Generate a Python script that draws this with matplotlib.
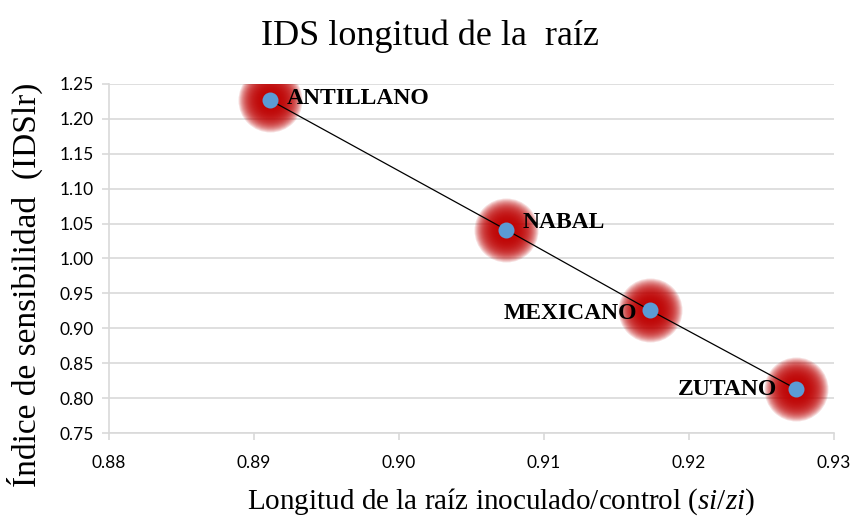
import numpy as np
import matplotlib
matplotlib.use("Agg")
import matplotlib.pyplot as plt

plt.rcParams["mathtext.fontset"] = "custom"
plt.rcParams["mathtext.it"] = "Liberation Serif:italic"
plt.rcParams["mathtext.rm"] = "Liberation Serif"

# data
cultivars = ["ANTILLANO", "NABAL", "MEXICANO", "ZUTANO"]
x_vals = [0.8911, 0.9074, 0.9173, 0.9274]
y_vals = [1.227, 1.041, 0.926, 0.813]
x_ticks = [0.88, 0.89, 0.90, 0.91, 0.92, 0.93]
y_ticks = [0.75, 0.80, 0.85, 0.90, 0.95, 1.00, 1.05, 1.10, 1.15, 1.20, 1.25]

# label placement: (dx px, dy px, ha)
label_pos = {
    "ANTILLANO": (17, 2, "left"),
    "NABAL": (16, 7, "left"),
    "MEXICANO": (-13, -3, "right"),
    "ZUTANO": (-19, 0, "right"),
}

SERIF = "Liberation Serif"
TICKFONT = "Lato"
GRID = "#d9d9d9"

fig = plt.figure(figsize=(8.54, 5.2), dpi=100)
ax = fig.add_axes([0.1276, 0.1673, 0.8490, 0.6712])

# trend line through the points
ax.plot(x_vals, y_vals, color="black", lw=0.9, zorder=4)

# soft red glow around each marker
n_glow = 26
for k in range(n_glow):
    r = 32 - k * 1.0          # radius in px
    ax.scatter(x_vals, y_vals, s=(2 * r * 0.72) ** 2, color="#c00000",
               alpha=0.13, lw=0, zorder=2)

ax.scatter(x_vals, y_vals, s=(16 * 0.72) ** 2, color="#5b9bd5", lw=0, zorder=5)

for name, x, y in zip(cultivars, x_vals, y_vals):
    dx, dy, ha = label_pos[name]
    ax.annotate(name, (x, y), xytext=(dx * 0.72, dy * 0.72),
                textcoords="offset points", ha=ha, va="center",
                fontsize=17, fontweight="bold", family=SERIF, zorder=6)

ax.set_xlim(0.88, 0.93)
ax.set_ylim(0.75, 1.25)
ax.set_xticks(x_ticks)
ax.set_yticks(y_ticks)
ax.set_xticklabels([f"{v:.2f}" for v in x_ticks], family=TICKFONT, fontsize=12.5)
ax.set_yticklabels([f"{v:.2f}" for v in y_ticks], family=TICKFONT, fontsize=12.5)

ax.grid(axis="y", color=GRID, lw=1.2, zorder=0)
ax.set_axisbelow(True)
for s in ["top", "right"]:
    ax.spines[s].set_visible(False)
for s in ["left", "bottom"]:
    ax.spines[s].set_color(GRID)
    ax.spines[s].set_linewidth(1.2)
ax.tick_params(axis="both", direction="out", length=5, width=1.2,
               color=GRID, labelcolor="black")
ax.tick_params(axis="y", pad=6)
ax.tick_params(axis="x", pad=11)

fig.text(0.503, 0.93, "IDS longitud de la  raíz", ha="center", va="center",
         fontsize=26, family=SERIF)
fig.text(0.029, 0.452, "Índice de sensibilidad  (IDSlr)", rotation=90,
         ha="center", va="center", family=SERIF, fontsize=24)
fig.text(0.587, 0.035, "Longitud de la raíz inoculado/control ($\\mathit{si/zi}$)",
         ha="center", va="center", family=SERIF, fontsize=21)

fig.savefig("out.png", dpi=100, facecolor="white")
plt.close(fig)
